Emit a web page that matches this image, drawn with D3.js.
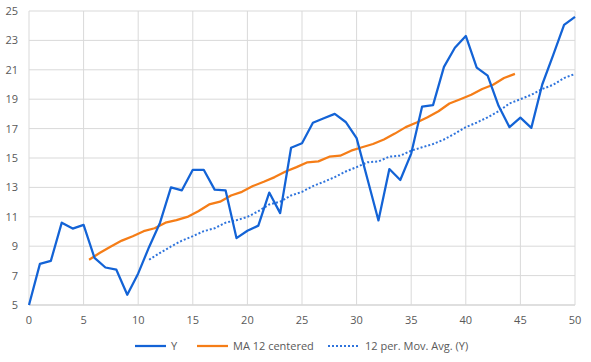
<!DOCTYPE html>
<html>
<head>
<meta charset="utf-8">
<script src="https://cdn.jsdelivr.net/npm/d3@7"></script>
<style>
  body { margin: 0; background: #fff; }
  text { font-family: "Open Sans", "Noto Sans", sans-serif; fill: #595959; }
</style>
</head>
<body>
<div id="chart"></div>
<script>
// Y values, one per period 0..50
var yValues = [5.0, 7.8, 8.0, 10.6, 10.2, 10.45, 8.2, 7.55, 7.4, 5.7,
  7.15, 8.95, 10.6, 13.0, 12.8, 14.2, 14.2, 12.85, 12.8, 9.55,
  10.05, 10.4, 12.65, 11.25, 15.7, 16.0, 17.4, 17.7, 18.0, 17.45,
  16.35, 13.55, 10.75, 14.25, 13.5, 15.3, 18.5, 18.6, 21.2, 22.5,
  23.3, 21.15, 20.6, 18.55, 17.1, 17.75, 17.05, 20.0, 22.0, 24.05, 24.6];

// MA 12 centered: x positions 5.5 .. 44.5
var maX = [5.5, 6.5, 7.5, 8.5, 9.5, 10.5, 11.5, 12.5, 13.5, 14.5,
  15.5, 16.5, 17.5, 18.5, 19.5, 20.5, 21.5, 22.5, 23.5, 24.5,
  25.5, 26.5, 27.5, 28.5, 29.5, 30.5, 31.5, 32.5, 33.5, 34.5,
  35.5, 36.5, 37.5, 38.5, 39.5, 40.5, 41.5, 42.5, 43.5, 44.5];
var maValues = [8.08, 8.55, 8.98, 9.38, 9.68, 10.02, 10.22, 10.6, 10.77, 10.99,
  11.38, 11.84, 12.03, 12.45, 12.7, 13.09, 13.38, 13.7, 14.08, 14.38,
  14.71, 14.77, 15.09, 15.16, 15.5, 15.73, 15.95, 16.26, 16.66, 17.1,
  17.41, 17.77, 18.18, 18.71, 19.0, 19.3, 19.69, 19.98, 20.44, 20.72];

// 12 per. moving average (trailing): x positions 11 .. 50
var movX = [11, 12, 13, 14, 15, 16, 17, 18, 19, 20,
  21, 22, 23, 24, 25, 26, 27, 28, 29, 30,
  31, 32, 33, 34, 35, 36, 37, 38, 39, 40,
  41, 42, 43, 44, 45, 46, 47, 48, 49, 50];
var movValues = maValues;

var xTicks = [0, 5, 10, 15, 20, 25, 30, 35, 40, 45, 50];
var yTicks = [5, 7, 9, 11, 13, 15, 17, 19, 21, 23, 25];

var width = 591, height = 362;
var margin = {top: 11, right: 16, bottom: 57, left: 29};

var svg = d3.select("#chart").append("svg")
  .attr("width", width)
  .attr("height", height);

var x = d3.scaleLinear().domain([0, 50]).range([margin.left, width - margin.right]);
var y = d3.scaleLinear().domain([5, 25]).range([height - margin.bottom, margin.top]);

// gridlines
svg.append("g").selectAll("line.h")
  .data(yTicks)
  .enter().append("line")
  .attr("x1", x(0)).attr("x2", x(50))
  .attr("y1", function(d) { return y(d); })
  .attr("y2", function(d) { return y(d); })
  .style("stroke", function(d) { return d == 5 ? "#bfbfbf" : "#d9d9d9"; })
  .style("stroke-width", 1);

svg.append("g").selectAll("line.v")
  .data(xTicks)
  .enter().append("line")
  .attr("y1", y(5)).attr("y2", y(25))
  .attr("x1", function(d) { return x(d); })
  .attr("x2", function(d) { return x(d); })
  .style("stroke", "#d9d9d9")
  .style("stroke-width", 1);

// tick labels
svg.append("g").selectAll("text")
  .data(yTicks)
  .enter().append("text")
  .attr("x", x(0) - 11)
  .attr("y", function(d) { return y(d) + 4; })
  .attr("text-anchor", "end")
  .style("font-size", "11px")
  .text(function(d) { return d; });

svg.append("g").selectAll("text")
  .data(xTicks)
  .enter().append("text")
  .attr("x", function(d) { return x(d); })
  .attr("y", y(5) + 19)
  .attr("text-anchor", "middle")
  .style("font-size", "11px")
  .text(function(d) { return d; });

// series
var line = d3.line()
  .x(function(d) { return x(d[0]); })
  .y(function(d) { return y(d[1]); });

var ySeries = yValues.map(function(v, i) { return [i, v]; });
var maSeries = maX.map(function(v, i) { return [v, maValues[i]]; });
var movSeries = movX.map(function(v, i) { return [v, movValues[i]]; });

svg.append("path")
  .datum(movSeries)
  .attr("d", line)
  .style("fill", "none")
  .style("stroke", "#2f74dc")
  .style("stroke-width", 2)
  .style("stroke-dasharray", "2,2");

svg.append("path")
  .datum(maSeries)
  .attr("d", line)
  .style("fill", "none")
  .style("stroke", "#f57d17")
  .style("stroke-width", 2.25)
  .style("stroke-linejoin", "round");

svg.append("path")
  .datum(ySeries)
  .attr("d", line)
  .style("fill", "none")
  .style("stroke", "#1363d6")
  .style("stroke-width", 2.25)
  .style("stroke-linejoin", "round");

// legend
var legend = [
  {name: "Y", color: "#1363d6", dash: null, x0: 135, tx: 171},
  {name: "MA 12 centered", color: "#f57d17", dash: null, x0: 197, tx: 233},
  {name: "12 per. Mov. Avg. (Y)", color: "#2f74dc", dash: "2,2", x0: 328, tx: 365}
];
var ly = 346;
var lg = svg.append("g").selectAll("g")
  .data(legend)
  .enter().append("g");
lg.append("line")
  .attr("x1", function(d) { return d.x0; })
  .attr("x2", function(d) { return d.x0 + 31; })
  .attr("y1", ly).attr("y2", ly)
  .style("stroke", function(d) { return d.color; })
  .style("stroke-width", function(d) { return d.dash ? 2 : 2.25; })
  .style("stroke-dasharray", function(d) { return d.dash; });
lg.append("text")
  .attr("x", function(d) { return d.tx; })
  .attr("y", ly + 4)
  .style("font-size", "11px")
  .text(function(d) { return d.name; });
</script>
</body>
</html>
